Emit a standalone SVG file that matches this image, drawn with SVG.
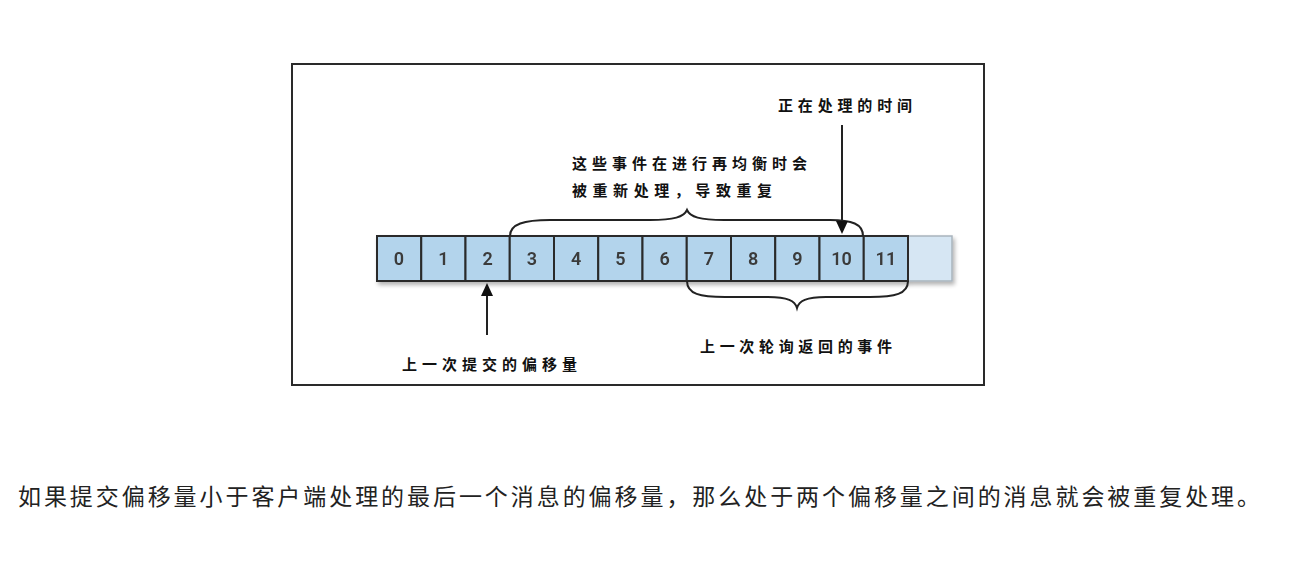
<svg xmlns="http://www.w3.org/2000/svg" width="1295" height="568" viewBox="0 0 1295 568">
<defs>
<style>
.cell{fill:#b3d4ec;stroke:#2a2a2a;stroke-width:2}
.num{font-family:Roboto,"Open Sans",sans-serif;font-size:18px;font-weight:600;fill:#3a3a3a;text-anchor:middle}
.lbl{font-family:"Noto Sans CJK SC",sans-serif;font-size:15px;font-weight:700;fill:#111}
.brace{fill:none;stroke:#222;stroke-width:2}
.line{stroke:#222;stroke-width:2}
.body{font-family:"Noto Sans CJK SC",sans-serif;font-size:23px;fill:#222}
</style>
<filter id="sh" x="-5%" y="-20%" width="110%" height="160%">
<feGaussianBlur in="SourceAlpha" stdDeviation="2"/>
<feOffset dx="2" dy="3"/>
<feComponentTransfer><feFuncA type="linear" slope="0.3"/></feComponentTransfer>
<feMerge><feMergeNode/><feMergeNode in="SourceGraphic"/></feMerge>
</filter>
</defs>
<rect width="1295" height="568" fill="#fff"/>
<rect id="frame" x="292" y="64" width="692" height="321" fill="none" stroke="#2a2a2a" stroke-width="2"/>
<g id="log" filter="url(#sh)">
<rect x="908" y="236" width="44" height="45" fill="#d6e6f3" stroke="#a9b4bd" stroke-width="1.5"/>
<g id="c0"><rect class="cell" x="377" y="236" width="44.25" height="45"/><text class="num" x="399" y="265">0</text></g>
<g id="c1"><rect class="cell" x="421.25" y="236" width="44.25" height="45"/><text class="num" x="443.4" y="265">1</text></g>
<g id="c2"><rect class="cell" x="465.5" y="236" width="44.25" height="45"/><text class="num" x="487.6" y="265">2</text></g>
<g id="c3"><rect class="cell" x="509.75" y="236" width="44.25" height="45"/><text class="num" x="531.9" y="265">3</text></g>
<g id="c4"><rect class="cell" x="554" y="236" width="44.25" height="45"/><text class="num" x="576.1" y="265">4</text></g>
<g id="c5"><rect class="cell" x="598.25" y="236" width="44.25" height="45"/><text class="num" x="620.4" y="265">5</text></g>
<g id="c6"><rect class="cell" x="642.5" y="236" width="44.25" height="45"/><text class="num" x="664.6" y="265">6</text></g>
<g id="c7"><rect class="cell" x="686.75" y="236" width="44.25" height="45"/><text class="num" x="708.9" y="265">7</text></g>
<g id="c8"><rect class="cell" x="731" y="236" width="44.25" height="45"/><text class="num" x="753.1" y="265">8</text></g>
<g id="c9"><rect class="cell" x="775.25" y="236" width="44.25" height="45"/><text class="num" x="797.4" y="265">9</text></g>
<g id="c10"><rect class="cell" x="819.5" y="236" width="44.25" height="45"/><text class="num" x="841.6" y="265">10</text></g>
<g id="c11"><rect class="cell" x="863.75" y="236" width="44.25" height="45"/><text class="num" x="885.9" y="265">11</text></g>
</g>
<g id="connectors">
<path class="brace" d="M510,236 C510,224 524,220 550,220 L650,220 C674,220 684,217 687,210 C690,217 700,220 724,220 L830,220 C852,220 863,224 863,236"/>
<path class="brace" d="M687,281 C687,294 700,297 725,297 L768,297 C788,297 795,301 797,308 C799,301 806,297 826,297 L870,297 C895,297 908,294 908,281"/>
<line class="line" x1="487" y1="335" x2="487" y2="292"/>
<polygon points="487,283 481,296 493,296" fill="#111"/>
<line class="line" x1="842" y1="125" x2="842" y2="224"/>
<polygon points="842,234 836,221 848,221" fill="#111"/>
</g>
<g id="labels">
<text class="lbl" x="778" y="111" textLength="134" lengthAdjust="spacing">正在处理的时间</text>
<text class="lbl" x="572" y="169" textLength="235" lengthAdjust="spacing">这些事件在进行再均衡时会</text>
<text class="lbl" x="572" y="196" textLength="200" lengthAdjust="spacing">被重新处理，导致重复</text>
<text class="lbl" x="402" y="370" textLength="175" lengthAdjust="spacing">上一次提交的偏移量</text>
<text class="lbl" x="700" y="352" textLength="192" lengthAdjust="spacing">上一次轮询返回的事件</text>
</g>
<text class="body" x="18" y="505" textLength="1242" lengthAdjust="spacing">如果提交偏移量小于客户端处理的最后一个消息的偏移量，那么处于两个偏移量之间的消息就会被重复处理。</text>
</svg>
